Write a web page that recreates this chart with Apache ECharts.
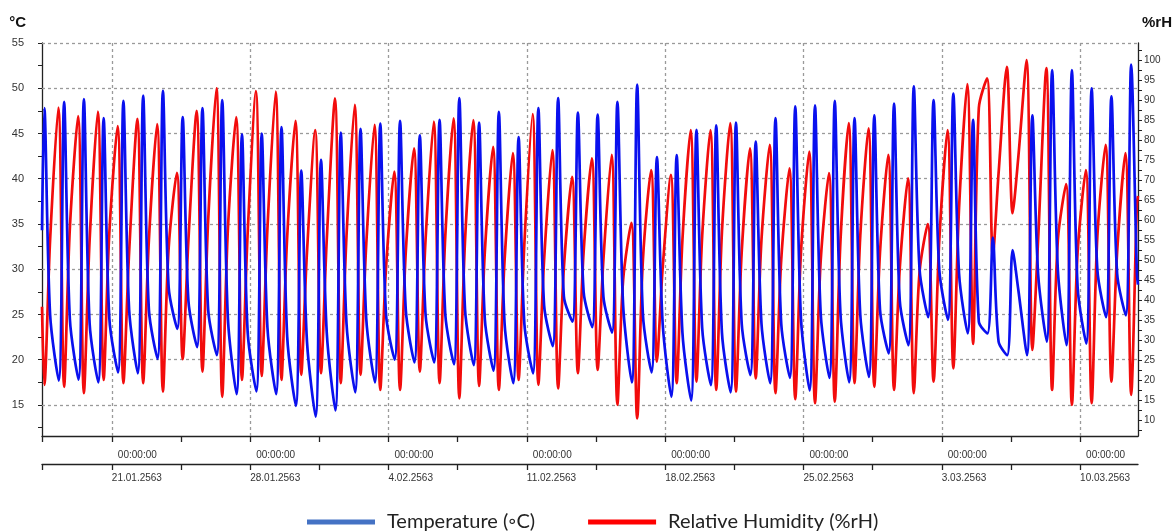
<!DOCTYPE html>
<html><head><meta charset="utf-8">
<script src="https://cdn.jsdelivr.net/npm/echarts@6/dist/echarts.min.js"></script>
<style>html,body{margin:0;padding:0;background:#fff}#c{width:1175px;height:532px}</style>
</head><body><div id="c"></div>
<script>
// x value = days since 14.01.2563 00:00 ; first plotted day 17.01.2563 = 3
const firstDay = 3;
const axisStart = 3.465, axisEnd = 58.93;
const startT = 34.3, startH = 38.3, endT = 28.3, endH = 66;
// hours of the day at which each daily reading is taken
const hourTMin = 7.5, hourHMax = 7, hourPeak = 14, hourEve = 21;

// daily temperature (°C): morning minimum, afternoon maximum, evening value
const tMin = [null,17.7,17.8,17.5,18.6,18.5,20.1,23.4,21.4,20.5,
  16.2,16.5,16.2,14.9,13.7,14.4,16.4,17.5,20.0,19.7,
  19.7,19.5,19.4,18.8,17.4,18.5,21.5,24.2,23.6,23.0,
  17.5,18.6,15.9,15.5,17.2,16.4,18.3,17.4,18.0,16.6,
  18.0,17.5,18.1,20.7,21.6,24.7,24.4,22.9,22.9,20.5,
  20.5,22.0,21.6,21.8,24.7,24.9];
const tMax = [47.8,48.5,48.8,46.7,48.6,49.2,49.7,46.8,47.8,48.7,
  44.9,45.0,45.7,40.9,42.1,45.1,45.5,46.1,46.4,44.8,
  46.5,48.9,46.2,47.4,44.6,47.8,48.9,47.3,47.1,48.5,
  50.4,42.4,42.6,45.4,45.9,46.2,44.1,46.7,48.0,48.1,
  48.6,46.7,47.0,48.3,50.2,48.7,49.4,46.5,33.5,32.1,
  47.0,52.0,52.0,50.0,49.1,52.6];
const tEve = [25.0,24.5,24.0,24.5,25.5,25.5,28.0,26.5,25.5,24.5,
  23.0,23.5,22.5,22.0,23.0,24.0,24.5,25.0,25.5,25.0,
  25.0,25.5,24.5,24.0,24.0,26.0,27.0,27.5,27.0,26.0,
  25.0,24.0,23.0,23.5,23.0,24.0,24.0,24.0,24.5,25.0,
  25.0,25.0,25.5,26.5,30.0,29.9,29.5,24.2,22.0,27.7,
  29.5,29.9,28.0,29.9,29.5,29.5];

// daily relative humidity (%rH): morning maximum, afternoon minimum, evening value
const hMax = [null,88.1,86.0,87.1,83.5,85.3,84.0,71.8,87.3,92.9,
  85.7,92.2,92.1,84.8,82.5,90.4,88.8,83.8,72.1,77.9,
  84.6,85.4,85.0,78.3,76.7,86.5,77.5,70.8,75.4,76.3,
  59.3,72.5,71.3,82.5,82.5,84.2,77.9,78.8,72.9,77.1,
  71.7,84.2,82.9,76.3,70.4,59.0,82.5,94.0,95.4,98.3,
  100.0,98.0,69.0,72.5,78.8,76.7];
const hMin = [18.8,18.3,16.7,20.0,19.2,19.2,17.1,25.2,22.1,15.8,
  20.0,21.0,20.0,21.3,21.7,19.2,21.3,17.5,17.5,22.1,
  19.2,15.4,18.5,17.5,20.0,18.8,17.9,21.7,22.5,13.8,
  10.4,24.6,19.2,19.6,17.5,17.1,20.4,16.7,15.2,14.2,
  14.6,19.2,18.3,17.5,16.7,19.6,22.9,29.0,51.0,61.7,
  27.5,17.5,13.8,14.2,19.6,16.3];
const hEve = [55,58,55,57,52,55,53,55,60,58,
  57,58,56,52,55,56,54,48,52,55,
  56,55,52,50,54,50,48,52,50,45,
  50,48,55,56,57,52,55,50,52,50,
  55,56,52,48,47,55,63,88,71.7,75.8,
  55,55,52,56,52,64];

// axis ticks / labels
const xTicks = [3.5,7,10.5,14,17.5,21,24.5,28,31.5,35,38.5,42,45.5,49,52.5,56];
const dateTicks = [7,14,21,28,35,42,49,56];
const dateLabels = ['21.01.2563','28.01.2563','4.02.2563','11.02.2563','18.02.2563','25.02.2563','3.03.2563','10.03.2563'];
const timeLabel = '00:00:00';
const tLabels = [15,20,25,30,35,40,45,50,55];
const tTicks = [12.5,15,17.5,20,22.5,25,27.5,30,32.5,35,37.5,40,42.5,45,47.5,50,52.5,55];
const hLabels = [10,15,20,25,30,35,40,45,50,55,60,65,70,75,80,85,90,95,100];
const hTicks = [7.5,10,12.5,15,17.5,20,22.5,25,27.5,30,32.5,35,37.5,40,42.5,45,47.5,50,52.5,55,57.5,60,62.5,65,67.5,70,72.5,75,77.5,80,82.5,85,87.5,90,92.5,95,97.5,100,102.5];

const tempData = [[axisStart, startT]];
const humData = [[axisStart, startH]];
for (let i = 0; i < tMax.length; i++) {
  const d = firstDay + i;
  if (hMax[i] != null) humData.push([d + hourHMax / 24, hMax[i]]);
  if (tMin[i] != null) tempData.push([d + hourTMin / 24, tMin[i]]);
  tempData.push([d + hourPeak / 24, tMax[i]]);
  humData.push([d + hourPeak / 24, hMin[i]]);
  tempData.push([d + hourEve / 24, tEve[i]]);
  humData.push([d + hourEve / 24, hEve[i]]);
}
tempData.push([axisEnd, endT]);
humData.push([axisEnd, endH]);

const axisColor = '#222';
const lblFont = 'Liberation Sans';
const gridStyle = {color: '#9a9a9a', type: [3, 3], width: 1.3};

const chart = echarts.init(document.getElementById('c'), null, {renderer: 'canvas'});
chart.setOption({
  animation: false,
  backgroundColor: '#fff',
  grid: {left: 42, right: 35, top: 43, bottom: 96, containLabel: false},
  legend: {
    left: 302, top: 507, itemWidth: 68, itemHeight: 5, itemGap: 53,
    selectedMode: false,
    textStyle: {fontFamily: 'Lato', fontSize: 20, color: '#222', padding: [0, 0, 0, 7]},
    data: [
      {name: 'Temperature (◦C)', icon: 'rect', itemStyle: {color: '#4472C4'}},
      {name: 'Relative Humidity (%rH)', icon: 'rect', itemStyle: {color: '#FF0000'}}
    ]
  },
  xAxis: [
    {
      type: 'value', min: axisStart, max: axisEnd, position: 'bottom',
      axisLine: {show: true, lineStyle: {color: axisColor, width: 1.3}},
      axisTick: {show: true, length: 6, customValues: xTicks, lineStyle: {color: axisColor, width: 1.3}},
      axisLabel: {customValues: dateTicks, formatter: () => timeLabel, align: 'left', padding: [0, 0, 0, 6],
        margin: 14, fontSize: 10, fontFamily: lblFont, color: '#333'},
      splitLine: {show: false}
    },
    {
      type: 'value', min: axisStart, max: axisEnd, position: 'bottom', offset: 28,
      axisLine: {show: true, lineStyle: {color: axisColor, width: 1.3}},
      axisTick: {show: true, length: 6, customValues: xTicks, lineStyle: {color: axisColor, width: 1.3}},
      axisLabel: {customValues: dateTicks, formatter: v => dateLabels[dateTicks.indexOf(Math.round(v))] || '',
        align: 'left', margin: 9, fontSize: 10, fontFamily: lblFont, color: '#333'},
      splitLine: {show: false}
    }
  ],
  yAxis: [
    {
      type: 'value', min: 11.57, max: 55, position: 'left',
      name: '°C', nameLocation: 'end', nameGap: 13,
      nameTextStyle: {fontWeight: 'bold', fontSize: 15, fontFamily: lblFont, color: '#111', align: 'right', padding: [0, 16, 0, 0]},
      axisLine: {show: true, lineStyle: {color: axisColor, width: 1.3}},
      axisTick: {show: true, length: 4, customValues: tTicks, lineStyle: {color: axisColor}},
      axisLabel: {customValues: tLabels, margin: 18, fontSize: 11, fontFamily: lblFont, color: '#333'},
      splitLine: {show: false}
    },
    {
      type: 'value', min: 6, max: 104.25, position: 'right',
      name: '%rH', nameLocation: 'end', nameGap: 13,
      nameTextStyle: {fontWeight: 'bold', fontSize: 15, fontFamily: lblFont, color: '#111', align: 'left', padding: [0, 0, 0, 4]},
      axisLine: {show: true, lineStyle: {color: axisColor, width: 1.3}},
      axisTick: {show: true, length: 4, customValues: hTicks, lineStyle: {color: axisColor}},
      axisLabel: {customValues: hLabels, margin: 6, fontSize: 10, fontFamily: lblFont, color: '#333'},
      splitLine: {show: false}
    }
  ],
  series: [
    {
      name: 'Relative Humidity (%rH)', type: 'line', xAxisIndex: 0, yAxisIndex: 1,
      data: humData, showSymbol: false, symbol: 'none', smooth: 0.3,
      lineStyle: {color: '#f20c0c', width: 2.7}, itemStyle: {color: '#FF0000'}, z: 2
    },
    {
      name: 'Temperature (◦C)', type: 'line', xAxisIndex: 0, yAxisIndex: 0,
      data: tempData, showSymbol: false, symbol: 'none', smooth: 0.3,
      lineStyle: {color: '#0a10ee', width: 2.7}, itemStyle: {color: '#4472C4'}, z: 3,
      markLine: {
        silent: true, symbol: 'none', z: 1, label: {show: false},
        lineStyle: gridStyle, emphasis: {disabled: true},
        data: tLabels.map(v => ({yAxis: v})).concat(dateTicks.map(v => ({xAxis: v})))
      }
    }
  ]
});
</script>
</body></html>
